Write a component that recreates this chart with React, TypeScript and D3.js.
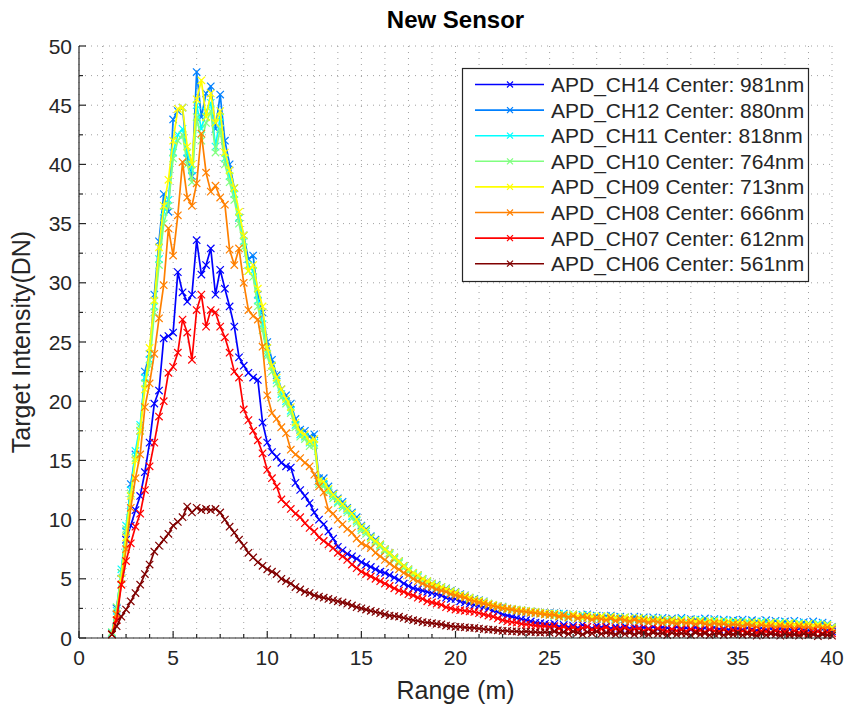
import React from 'react';
import * as d3 from 'd3';

// Range bins (m)
const RANGE = [
  1.75, 2, 2.25, 2.5, 2.75, 3, 3.25, 3.5, 3.75, 4, 4.25, 4.5, 4.75, 5,
  5.25, 5.5, 5.75, 6, 6.25, 6.5, 6.75, 7, 7.25, 7.5, 7.75, 8, 8.25, 8.5, 8.75, 9, 9.25, 9.5, 9.75, 10,
  10.25, 10.5, 10.75, 11, 11.25, 11.5, 11.75, 12, 12.25, 12.5, 12.75, 13, 13.25, 13.5, 13.75, 14, 14.25, 14.5, 14.75, 15,
  15.25, 15.5, 15.75, 16, 16.25, 16.5, 16.75, 17, 17.25, 17.5, 17.75, 18, 18.25, 18.5, 18.75, 19, 19.25, 19.5, 19.75, 20,
  20.25, 20.5, 20.75, 21, 21.25, 21.5, 21.75, 22, 22.25, 22.5, 22.75, 23, 23.25, 23.5, 23.75, 24, 24.25, 24.5, 24.75, 25,
  25.25, 25.5, 25.75, 26, 26.25, 26.5, 26.75, 27, 27.25, 27.5, 27.75, 28, 28.25, 28.5, 28.75, 29, 29.25, 29.5, 29.75, 30,
  30.25, 30.5, 30.75, 31, 31.25, 31.5, 31.75, 32, 32.25, 32.5, 32.75, 33, 33.25, 33.5, 33.75, 34, 34.25, 34.5, 34.75, 35,
  35.25, 35.5, 35.75, 36, 36.25, 36.5, 36.75, 37, 37.25, 37.5, 37.75, 38, 38.25, 38.5, 38.75, 39, 39.25, 39.5, 39.75, 40,
];

const CH14 = [
  0.4, 2.5, 5, 8.3, 9.5, 10.8, 12, 14, 16.5, 19.8, 20.9, 25.3, 25.5, 25.8,
  30.9, 29.2, 28.4, 29, 33.6, 30.7, 31.5, 32.9, 29, 31.1, 29.5, 28, 26.3, 23.7, 23, 22.4, 22, 21.8, 18.2, 16.5,
  15.7, 15.3, 14.8, 14.5, 14.4, 13.1, 12.5, 12, 11.4, 10.6, 10, 9.6, 9, 8.4, 7.7, 7.4, 7.1, 6.9, 6.7, 6.4,
  6.2, 6, 5.8, 5.6, 5.5, 5.3, 5.1, 4.9, 4.6, 4.4, 4.2, 4.1, 4, 3.9, 3.8, 3.7, 3.6, 3.4, 3.3, 3.3,
  3.1, 3, 2.9, 2.8, 2.7, 2.6, 2.5, 2.3, 2.2, 2, 1.9, 1.8, 1.7, 1.6, 1.5, 1.4, 1.3, 1.25, 1.2, 1.1,
  1.2, 0.95, 1.1, 0.9, 1.05, 0.85, 1.1, 0.95, 0.8, 1.05, 0.9, 1, 0.8, 0.95, 0.85, 1, 0.8, 0.95, 0.85, 0.9,
  0.8, 0.95, 0.75, 0.9, 0.85, 0.7, 0.95, 0.8, 0.85, 0.7, 0.9, 0.75, 0.85, 0.7, 0.9, 0.75, 0.8, 0.7, 0.85, 0.8,
  0.7, 0.85, 0.75, 0.65, 0.85, 0.7, 0.8, 0.65, 0.8, 0.7, 0.75, 0.6, 0.8, 0.7, 0.65, 0.75, 0.6, 0.75, 0.65, 0.55,
];

const CH12 = [
  0.4, 2.5, 5.5, 9, 13, 15.5, 17.5, 22.5, 24, 29, 33.5, 37.5, 36, 43.8,
  44.5, 44.8, 40.5, 39, 47.8, 44, 46, 46.6, 43, 45.9, 42, 40, 38, 35.5, 34, 32, 32.3, 29, 27.5, 25,
  23.5, 22.2, 21, 20.5, 19.8, 18.5, 17.6, 17.5, 17, 17.2, 13.5, 13.5, 12.8, 12.2, 11.8, 11.5, 11, 10.6, 10.2, 9.5,
  9.2, 8.6, 8.3, 7.9, 7.5, 7.2, 6.8, 6.5, 6.1, 5.8, 5.5, 5.3, 5, 4.8, 4.6, 4.5, 4.3, 4.2, 4, 3.9,
  3.7, 3.6, 3.4, 3.3, 3.2, 3.1, 2.9, 2.8, 2.7, 2.65, 2.5, 2.45, 2.4, 2.35, 2.3, 2.25, 2.2, 2.15, 2.1, 2.1,
  2.1, 1.85, 2.05, 1.8, 2, 1.75, 1.95, 2, 1.7, 1.9, 1.65, 1.85, 1.9, 1.6, 1.8, 1.75, 1.55, 1.8, 1.6, 1.75,
  1.5, 1.75, 1.55, 1.7, 1.45, 1.65, 1.5, 1.7, 1.4, 1.6, 1.55, 1.35, 1.65, 1.45, 1.6, 1.4, 1.55, 1.35, 1.5, 1.45,
  1.55, 1.3, 1.5, 1.4, 1.25, 1.5, 1.35, 1.45, 1.2, 1.4, 1.3, 1.45, 1.2, 1.35, 1.25, 1.4, 1.15, 1.3, 1.2, 0.95,
];

const CH11 = [
  0.4, 2.3, 5.8, 9.5, 12.5, 15.8, 18, 22, 23.5, 28, 32, 36, 37, 41,
  42.5, 43, 41, 39.5, 45, 43, 44.5, 45.2, 41.5, 44, 40.5, 39, 37.5, 35.5, 33.5, 31.5, 31, 28.5, 26.5, 24,
  23, 21.8, 20.6, 20, 19.2, 18, 17.2, 17, 16.5, 16.5, 13.2, 13, 12.5, 12, 11.5, 11.2, 10.8, 10.3, 9.9, 9.3,
  9, 8.5, 8.1, 7.8, 7.4, 7.1, 6.7, 6.4, 6, 5.7, 5.4, 5.2, 4.9, 4.7, 4.5, 4.4, 4.2, 4.1, 3.9, 3.8,
  3.6, 3.5, 3.35, 3.2, 3.1, 3, 2.85, 2.75, 2.65, 2.55, 2.45, 2.4, 2.35, 2.3, 2.25, 2.2, 2.15, 2.1, 2.05, 2,
  1.95, 2.05, 1.8, 1.95, 1.85, 1.7, 1.95, 1.75, 1.85, 1.65, 1.8, 1.7, 1.6, 1.75, 1.55, 1.7, 1.65, 1.5, 1.7, 1.55,
  1.6, 1.45, 1.65, 1.4, 1.55, 1.5, 1.35, 1.6, 1.4, 1.5, 1.3, 1.55, 1.4, 1.3, 1.5, 1.35, 1.45, 1.25, 1.4, 1.35,
  1.25, 1.4, 1.3, 1.2, 1.4, 1.25, 1.3, 1.15, 1.35, 1.2, 1.25, 1.1, 1.3, 1.15, 1.2, 1.1, 1.25, 1.05, 1.15, 0.85,
];

const CH10 = [
  0.5, 2.6, 5.5, 9.2, 12.2, 15.2, 17.8, 21.5, 23, 27.5, 31.5, 35, 36.5, 40.5,
  42, 42.5, 40, 38.5, 44, 42, 43.5, 44.5, 41, 43, 40, 38.5, 37, 35, 33, 31, 30.5, 28, 26, 23.8,
  22.5, 21.5, 20.3, 19.8, 19, 17.8, 17, 16.8, 16.2, 16.3, 13, 12.8, 12.3, 11.8, 11.4, 11, 10.6, 10.1, 9.7, 9.1,
  8.8, 8.4, 8, 7.7, 7.3, 7, 6.6, 6.3, 5.9, 5.6, 5.3, 5.1, 4.85, 4.65, 4.45, 4.3, 4.15, 4, 3.85, 3.75,
  3.55, 3.45, 3.3, 3.15, 3.05, 2.95, 2.8, 2.7, 2.6, 2.5, 2.4, 2.35, 2.3, 2.25, 2.2, 2.15, 2.1, 2.05, 2, 1.95,
  1.85, 1.95, 1.8, 1.7, 1.9, 1.75, 1.65, 1.85, 1.7, 1.6, 1.8, 1.6, 1.7, 1.55, 1.65, 1.5, 1.6, 1.55, 1.45, 1.6,
  1.4, 1.55, 1.45, 1.35, 1.5, 1.4, 1.3, 1.5, 1.35, 1.45, 1.25, 1.4, 1.35, 1.25, 1.45, 1.3, 1.2, 1.4, 1.25, 1.3,
  1.2, 1.3, 1.15, 1.25, 1.2, 1.1, 1.3, 1.15, 1.2, 1.05, 1.25, 1.1, 1.15, 1, 1.2, 1.05, 1.1, 0.95, 1.05, 0.8,
];

const CH09 = [
  0.3, 2, 5, 8.5, 12, 15, 17.5, 21, 24.5, 28.5, 33, 36.5, 38.7, 42,
  44.7, 44.8, 41.5, 40, 45.5, 47.1, 44, 46, 43.5, 44.5, 41, 39.5, 38, 36, 34, 31, 31.5, 29.5, 28, 24.5,
  23, 22, 21, 20.2, 19.5, 18.2, 17.4, 17.2, 16.6, 16.8, 13.3, 13.2, 12.6, 12.1, 11.7, 11.3, 10.9, 10.5, 10, 9.4,
  9.1, 8.5, 8.2, 7.9, 7.5, 7.2, 6.8, 6.5, 6.1, 5.8, 5.5, 5.3, 5, 4.8, 4.6, 4.45, 4.3, 4.15, 3.95, 3.85,
  3.65, 3.55, 3.4, 3.25, 3.15, 3.05, 2.9, 2.8, 2.7, 2.6, 2.5, 2.45, 2.4, 2.35, 2.3, 2.25, 2.2, 2.15, 2.1, 2.05,
  2.05, 1.9, 1.95, 1.8, 2, 1.85, 1.7, 1.9, 1.8, 1.75, 1.85, 1.65, 1.8, 1.7, 1.6, 1.75, 1.65, 1.55, 1.7, 1.6,
  1.55, 1.45, 1.6, 1.5, 1.4, 1.55, 1.45, 1.5, 1.35, 1.5, 1.4, 1.45, 1.3, 1.45, 1.35, 1.4, 1.3, 1.35, 1.25, 1.35,
  1.3, 1.2, 1.35, 1.25, 1.3, 1.15, 1.3, 1.2, 1.25, 1.1, 1.25, 1.15, 1.2, 1.1, 1.2, 1.05, 1.15, 1, 1.1, 0.9,
];

const CH08 = [
  0.3, 2, 4.5, 7.5, 11, 13.5, 15.5, 19.5, 21.5, 24, 27, 29.8, 34.6, 32.3,
  35.7, 40.2, 37.2, 36.5, 38.4, 42.6, 39.3, 37.7, 38.2, 37.2, 36.6, 32.8, 31.5, 32.9, 30, 27.7, 27.2, 26.9, 24.6, 20.5,
  19, 18.5, 17.8, 17.3, 15.9, 15.5, 15.2, 14.8, 14.5, 13.8, 12.8, 12.3, 10.8, 10.5, 10, 9.6, 9.2, 8.9, 8.4, 8,
  7.8, 7.6, 7.2, 6.9, 6.6, 6.3, 6, 5.8, 5.5, 5.3, 5, 4.8, 4.6, 4.4, 4.3, 4.1, 4, 3.9, 3.7, 3.6,
  3.5, 3.4, 3.2, 3.1, 3, 2.9, 2.8, 2.7, 2.6, 2.5, 2.45, 2.4, 2.3, 2.25, 2.2, 2.15, 2.1, 2.05, 2, 1.95,
  1.95, 1.8, 1.9, 1.75, 1.85, 1.65, 1.8, 1.7, 1.55, 1.7, 1.6, 1.5, 1.65, 1.45, 1.6, 1.5, 1.4, 1.55, 1.4, 1.45,
  1.3, 1.45, 1.35, 1.25, 1.4, 1.3, 1.2, 1.35, 1.25, 1.3, 1.15, 1.3, 1.2, 1.1, 1.25, 1.15, 1.2, 1.05, 1.15, 1.1,
  1, 1.15, 1.05, 0.95, 1.1, 1, 1.05, 0.9, 1.05, 0.95, 1, 0.85, 1, 0.9, 0.95, 0.8, 0.95, 0.85, 0.9, 0.7,
];

const CH07 = [
  0.3, 1.5, 4.5, 6.5, 8, 9.4, 10.5, 12.5, 14.5, 16.5, 18.7, 20, 22.4, 22.9,
  24.1, 26.9, 25.8, 23.5, 27.7, 29, 26.3, 27.7, 27.5, 26.3, 25.4, 24.1, 22.5, 22, 19.3, 18.4, 17.5, 16.7, 15.6, 14.2,
  13.5, 12.8, 11.7, 11.3, 10.9, 10.5, 10.2, 9.7, 9.3, 9, 8.5, 8.2, 7.9, 7.6, 7.2, 6.9, 6.6, 6.2, 5.9, 5.6,
  5.4, 5.2, 5, 4.8, 4.6, 4.4, 4.2, 4, 3.9, 3.7, 3.6, 3.4, 3.3, 3.1, 3, 2.9, 2.8, 2.6, 2.5, 2.4,
  2.35, 2.3, 2.25, 2.2, 2.1, 2, 1.9, 1.8, 1.65, 1.5, 1.4, 1.35, 1.3, 1.2, 1.15, 1.1, 1.05, 1, 1, 0.95,
  1, 0.8, 0.95, 0.75, 0.9, 0.7, 0.85, 0.95, 0.7, 0.85, 0.75, 0.9, 0.65, 0.8, 0.7, 0.85, 0.65, 0.75, 0.8, 0.6,
  0.75, 0.6, 0.8, 0.65, 0.55, 0.75, 0.6, 0.7, 0.55, 0.75, 0.6, 0.65, 0.5, 0.7, 0.6, 0.55, 0.7, 0.5, 0.65, 0.55,
  0.6, 0.5, 0.65, 0.45, 0.6, 0.55, 0.45, 0.6, 0.5, 0.55, 0.4, 0.6, 0.45, 0.55, 0.4, 0.5, 0.55, 0.4, 0.5, 0.4,
];

const CH06 = [
  0.3, 1, 1.8, 2.4, 3.1, 3.8, 4.5, 5.4, 6.2, 7.3, 7.8, 8.3, 8.8, 9.5,
  9.8, 10.2, 11.1, 10.6, 11, 10.8, 10.9, 10.8, 10.9, 10.6, 10, 9.4, 8.9, 8.3, 7.8, 7.2, 6.8, 6.4, 6.1, 5.8,
  5.6, 5.4, 5, 4.8, 4.6, 4.3, 4.1, 3.9, 3.8, 3.6, 3.5, 3.4, 3.3, 3.2, 3.1, 3, 2.9, 2.75, 2.6, 2.5,
  2.4, 2.3, 2.2, 2.1, 2, 1.9, 1.85, 1.8, 1.7, 1.6, 1.5, 1.45, 1.35, 1.3, 1.25, 1.2, 1.15, 1.05, 1, 0.95,
  0.95, 0.9, 0.85, 0.85, 0.8, 0.75, 0.7, 0.7, 0.65, 0.6, 0.6, 0.55, 0.55, 0.5, 0.55, 0.5, 0.5, 0.45, 0.5, 0.45,
  0.55, 0.4, 0.5, 0.35, 0.55, 0.45, 0.3, 0.5, 0.4, 0.55, 0.35, 0.45, 0.4, 0.3, 0.5, 0.35, 0.45, 0.3, 0.45, 0.4,
  0.3, 0.45, 0.35, 0.4, 0.25, 0.45, 0.3, 0.4, 0.35, 0.25, 0.45, 0.3, 0.4, 0.25, 0.35, 0.4, 0.25, 0.35, 0.3, 0.4,
  0.25, 0.35, 0.3, 0.2, 0.4, 0.25, 0.35, 0.3, 0.2, 0.35, 0.25, 0.3, 0.2, 0.35, 0.25, 0.3, 0.15, 0.3, 0.25, 0.2,
];

const SERIES_VALUES = [CH14, CH12, CH11, CH10, CH09, CH08, CH07, CH06];
const SERIES_NAMES = [
  'APD_CH14 Center: 981nm',
  'APD_CH12 Center: 880nm',
  'APD_CH11 Center: 818nm',
  'APD_CH10 Center: 764nm',
  'APD_CH09 Center: 713nm',
  'APD_CH08 Center: 666nm',
  'APD_CH07 Center: 612nm',
  'APD_CH06 Center: 561nm',
];
const SERIES_COLORS = ['#0000ff', '#0080ff', '#00ffff', '#80ff80', '#ffff00', '#ff8000', '#ff0000', '#800000'];

const X_TICKS = [0, 5, 10, 15, 20, 25, 30, 35, 40];
const Y_TICKS = [0, 5, 10, 15, 20, 25, 30, 35, 40, 45, 50];
const X_MINOR_STEP = 1.25;
const Y_MINOR_STEP = 2.5;

const TITLE = 'New Sensor';
const X_LABEL = 'Range (m)';
const Y_LABEL = 'Target Intensity(DN)';

const W = 844;
const H = 707;
const M = { left: 79, right: 832, top: 46, bottom: 638 };
const FONT = '"Liberation Sans", Arial, Helvetica, sans-serif';
const TXT = '#262626';

function XMarker({ cx, cy, r, color, sw }: { cx: number; cy: number; r: number; color: string; sw: number }) {
  return (
    <path
      d={`M${cx - r},${cy - r}L${cx + r},${cy + r}M${cx - r},${cy + r}L${cx + r},${cy - r}`}
      stroke={color}
      strokeWidth={sw}
      fill="none"
    />
  );
}

export default function App() {
  const x = d3.scaleLinear().domain([0, 40]).range([M.left, M.right]);
  const y = d3.scaleLinear().domain([0, 50]).range([M.bottom, M.top]);

  const xMinor = d3.range(0, 40 + 1e-6, X_MINOR_STEP);
  const yMinor = d3.range(0, 50 + 1e-6, Y_MINOR_STEP);

  const line = d3
    .line<number>()
    .x((_, i) => x(RANGE[i]))
    .y((d) => y(d));

  const legendX = 462.5;
  const legendY = 68.5;
  const legendW = 346;
  const legendH = 213;
  const rowH = 25.6;

  return (
    <svg
      width={W}
      height={H}
      style={{ position: 'absolute', left: 0, top: 0, background: '#fff' }}
      fontFamily={FONT}
    >
      <rect x={0} y={0} width={W} height={H} fill="#fff" />
      {/* grid */}
      <g stroke="#a0a0a0" strokeWidth={1} strokeDasharray="1,5">
        {xMinor.map((v) => (
          <line key={'gx' + v} x1={x(v)} x2={x(v)} y1={M.top} y2={M.bottom} />
        ))}
        {yMinor.map((v) => (
          <line key={'gy' + v} x1={M.left} x2={M.right} y1={y(v)} y2={y(v)} />
        ))}
      </g>

      {/* series */}
      {SERIES_VALUES.map((vals, si) => (
        <g key={'s' + si}>
          <path d={line(vals) || ''} fill="none" stroke={SERIES_COLORS[si]} strokeWidth={1.7} strokeLinejoin="round" />
          {vals.map((v, i) => (
            <XMarker key={i} cx={x(RANGE[i])} cy={y(v)} r={3.7} color={SERIES_COLORS[si]} sw={1.2} />
          ))}
        </g>
      ))}

      {/* axes */}
      <g stroke={TXT} strokeWidth={1.2} fill="none">
        <line x1={M.left} x2={M.left} y1={M.top} y2={M.bottom} />
        <line x1={M.left} x2={M.right} y1={M.bottom} y2={M.bottom} />
        {xMinor.map((v) => {
          const major = X_TICKS.includes(v);
          return <line key={'tx' + v} x1={x(v)} x2={x(v)} y1={M.bottom} y2={M.bottom - (major ? 7 : 4)} />;
        })}
        {yMinor.map((v) => {
          const major = Y_TICKS.includes(v);
          return <line key={'ty' + v} x1={M.left} x2={M.left + (major ? 7 : 4)} y1={y(v)} y2={y(v)} />;
        })}
      </g>

      {/* tick labels */}
      <g fill={TXT} fontSize={21}>
        {X_TICKS.map((v) => (
          <text key={'lx' + v} x={x(v)} y={M.bottom + 27} textAnchor="middle">
            {v}
          </text>
        ))}
        {Y_TICKS.map((v) => (
          <text key={'ly' + v} x={M.left - 7} y={y(v)} textAnchor="end" dominantBaseline="central">
            {v}
          </text>
        ))}
      </g>

      {/* labels */}
      <text x={(M.left + M.right) / 2} y={28} textAnchor="middle" fontWeight="bold" fontSize={24} fill="#000">
        {TITLE}
      </text>
      <text x={(M.left + M.right) / 2} y={699} textAnchor="middle" fontSize={25} fill={TXT}>
        {X_LABEL}
      </text>
      <text
        transform={`translate(30,${(M.top + M.bottom) / 2}) rotate(-90)`}
        textAnchor="middle"
        fontSize={25}
        fill={TXT}
      >
        {Y_LABEL}
      </text>

      {/* legend */}
      <rect x={legendX} y={legendY} width={legendW} height={legendH} fill="#fff" stroke={TXT} strokeWidth={1.2} />
      {SERIES_NAMES.map((name, i) => {
        const cy = legendY + 16 + i * rowH;
        return (
          <g key={'lg' + i}>
            <line x1={475} x2={544} y1={cy} y2={cy} stroke={SERIES_COLORS[i]} strokeWidth={1.6} />
            <XMarker cx={510} cy={cy} r={3} color={SERIES_COLORS[i]} sw={1.2} />
            <text x={551} y={cy} dominantBaseline="central" fontSize={21} fill={TXT}>
              {name}
            </text>
          </g>
        );
      })}
    </svg>
  );
}
